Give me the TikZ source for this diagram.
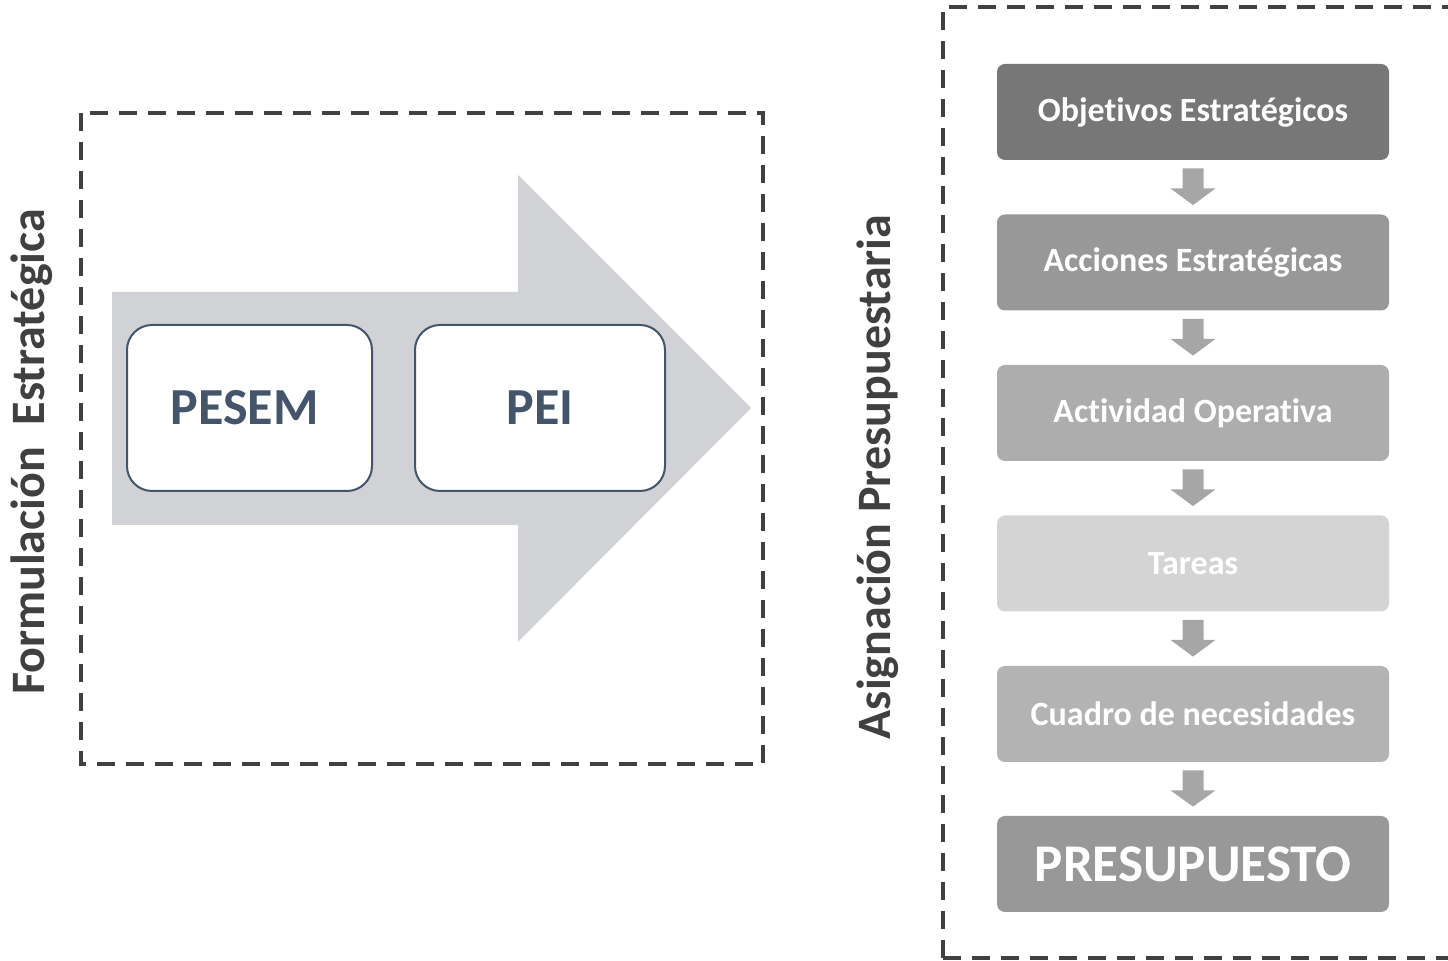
\documentclass[tikz,border=0pt]{standalone}
\usepackage{fontspec}
\setmainfont{Carlito}[Ligatures=NoCommon,Contextuals=NoAlternate,RawFeature=-liga]
\usetikzlibrary{calc}

\definecolor{framecol}{HTML}{404040}
\definecolor{plancol}{HTML}{44546A}
\definecolor{bigarrowcol}{HTML}{D0D2D6}
\definecolor{smallarrowcol}{HTML}{A6A6A6}

\tikzset{
  frame/.style={draw=framecol,line width=1.8pt,dash pattern=on 9pt off 5.5pt},
  plan/.style={draw=plancol,line width=1pt,fill=white,rounded corners=12.5pt,
    minimum height=83pt,inner sep=0pt,text=plancol,font=\fontsize{26}{30}\selectfont\bfseries},
  stage/.style={rounded corners=4pt,minimum width=196pt,minimum height=48pt,inner sep=0pt,
    text=white,font=\fontsize{17}{20}\selectfont\bfseries},
  sidelabel/.style={rotate=90,text=framecol,font=\fontsize{24}{28}\selectfont\bfseries},
  flowarrow/.style={fill=smallarrowcol}
}

\begin{document}
\begin{tikzpicture}[x=0.5pt,y=-0.5pt,line join=miter]

\useasboundingbox (0,0) rectangle (1448,961);

% Frame: formulacion
\draw [frame] (81,113) rectangle (763,764);
\node [sidelabel] (formlabel) at (32,452) {Formulación\ \ Estratégica};

% Big arrow
\fill [bigarrowcol] (112,292) -- (518,292) -- (518,175) -- (751,408) -- (518,642) -- (518,525) -- (112,525) -- cycle;

% Node: PESEM
\node [plan,minimum width=122.5pt] (pesem) at (249.5,408) {PESEM\rule{5pt}{0pt}};

% Node: PEI
\node [plan,minimum width=125pt] (pei) at (540,408) {PEI};

% Frame: asignacion
\draw [frame] (943,958) -- (943,7) -- (1470,7);
\draw [frame] (943,958) -- (1470,958);
\node [sidelabel] (asiglabel) at (878,477) {Asignación Presupuestaria};

% Node: OBJ
\node [stage,fill={rgb,255:red,119;green,119;blue,119}] (obj) at (1193,112) {Objetivos Estratégicos};

% Node: ACC
\node [stage,fill={rgb,255:red,152;green,152;blue,152}] (acc) at (1193,262.5) {Acciones Estratégicas};

% Node: ACT
\node [stage,fill={rgb,255:red,173;green,173;blue,173}] (act) at (1193,413) {Actividad Operativa};

% Node: TAR
\node [stage,fill={rgb,255:red,212;green,212;blue,212}] (tar) at (1193,563.5) {Tareas};

% Node: CUA
\node [stage,fill={rgb,255:red,179;green,179;blue,179}] (cua) at (1193,714) {Cuadro de necesidades};

% Node: PRE
\node [stage,fill={rgb,255:red,152;green,152;blue,152},font=\fontsize{26.5}{30}\selectfont\bfseries] (pre) at (1193,864) {PRESUPUESTO};

% Edge: OBJ -> ACC
\fill [flowarrow] ($(obj.south)+(-10.5,8)$) -- ($(obj.south)+(10.5,8)$) -- ($(obj.south)+(10.5,28)$) -- ($(obj.south)+(22.5,28)$) -- ($(acc.north)+(0,-9)$) -- ($(obj.south)+(-22.5,28)$) -- ($(obj.south)+(-10.5,28)$) -- cycle;

% Edge: ACC -> ACT
\fill [flowarrow] ($(acc.south)+(-10.5,8)$) -- ($(acc.south)+(10.5,8)$) -- ($(acc.south)+(10.5,28)$) -- ($(acc.south)+(22.5,28)$) -- ($(act.north)+(0,-9)$) -- ($(acc.south)+(-22.5,28)$) -- ($(acc.south)+(-10.5,28)$) -- cycle;

% Edge: ACT -> TAR
\fill [flowarrow] ($(act.south)+(-10.5,8)$) -- ($(act.south)+(10.5,8)$) -- ($(act.south)+(10.5,28)$) -- ($(act.south)+(22.5,28)$) -- ($(tar.north)+(0,-9)$) -- ($(act.south)+(-22.5,28)$) -- ($(act.south)+(-10.5,28)$) -- cycle;

% Edge: TAR -> CUA
\fill [flowarrow] ($(tar.south)+(-10.5,8)$) -- ($(tar.south)+(10.5,8)$) -- ($(tar.south)+(10.5,28)$) -- ($(tar.south)+(22.5,28)$) -- ($(cua.north)+(0,-9)$) -- ($(tar.south)+(-22.5,28)$) -- ($(tar.south)+(-10.5,28)$) -- cycle;

% Edge: CUA -> PRE
\fill [flowarrow] ($(cua.south)+(-10.5,8)$) -- ($(cua.south)+(10.5,8)$) -- ($(cua.south)+(10.5,28)$) -- ($(cua.south)+(22.5,28)$) -- ($(pre.north)+(0,-9)$) -- ($(cua.south)+(-22.5,28)$) -- ($(cua.south)+(-10.5,28)$) -- cycle;

\end{tikzpicture}
\end{document}
